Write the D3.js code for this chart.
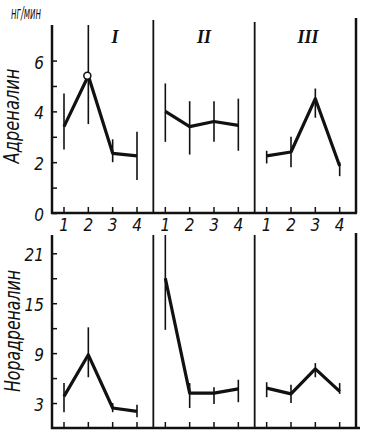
<!DOCTYPE html>
<html lang="ru">
  <head>
    <meta charset="utf-8" />
    <script src="https://d3js.org/d3.v7.min.js"></script>
    <style>
      body { margin: 0; background: #fff; }
      svg text { font-family: 'Liberation Sans Narrow', 'DejaVu Sans Condensed', sans-serif; font-style: italic; fill: #111; }
      .roman { font-family: 'Liberation Serif', serif; font-weight: bold; }
    </style>
  </head>
  <body>
    <svg id="chart" width="367" height="432"></svg>
    <script>
      // sessions and sample points
      const sessions = ['I', 'II', 'III'];
      const samples = [1, 2, 3, 4];

      // adrenaline, ng/min
      const adrMean = [[3.4, 5.4, 2.35, 2.25], [4.0, 3.4, 3.6, 3.45], [2.25, 2.4, 4.5, 1.85]];
      const adrLow  = [[2.5, 3.5, 2.0, 1.3], [2.8, 2.3, 2.8, 2.45], [1.95, 1.8, 3.75, 1.45]];
      const adrHigh = [[4.7, 7.4, 2.9, 3.2], [5.1, 4.4, 4.4, 4.5], [2.45, 3.0, 4.9, 2.0]];

      // noradrenaline
      const norMean = [[3.8, 8.8, 2.4, 2.0], [18, 4.2, 4.2, 4.7], [4.8, 4.1, 7.1, 4.4]];
      const norLow  = [[1.9, 6.1, 1.9, 1.3], [11.8, 2.4, 2.9, 3.1], [3.7, 3.0, 6.1, 4.1]];
      const norHigh = [[5.4, 12.1, 3.0, 2.8], [23.2, 5.4, 4.9, 5.8], [5.5, 5.2, 7.8, 5.4]];

      const adrTicks = [0, 2, 4, 6];
      const adrMinor = [1, 3, 5];
      const norTicks = [3, 9, 15, 21];
      const norMinor = [6, 12, 18];

      const svg = d3.select('#chart');

      const xPanel = d3.scaleBand().domain(sessions).range([52, 356]);
      const xIn = d3.scalePoint().domain(samples).range([12, 85]);
      const px = (s, i) => xPanel(s) + xIn(samples[i]);

      function drawPanel(cfg) {
        const y = d3.scaleLinear().domain(cfg.domain).range([cfg.bottom, cfg.top]);
        const g = svg.append('g');

        // y axis, ticks inside
        g.append('g')
          .attr('transform', `translate(52,0)`)
          .call(d3.axisRight(y).tickValues(cfg.ticks.concat(cfg.minor)).tickSize(5).tickFormat(''))
          .call(a => a.select('.domain').remove())
          .call(a => a.selectAll('line').attr('stroke', '#111').attr('stroke-width', 1.5));
        g.append('line')
          .attr('x1', 52).attr('x2', 52)
          .attr('y1', cfg.top).attr('y2', cfg.bottom + 1)
          .attr('stroke', '#111').attr('stroke-width', 2.5);
        g.selectAll('.ylab')
          .data(cfg.ticks)
          .join('text')
          .attr('x', 44)
          .attr('y', d => y(d) + 2)
          .attr('dy', '0.35em')
          .attr('text-anchor', 'end')
          .attr('font-size', 17)
          .text(d => d);

        // x axis
        g.append('line')
          .attr('x1', 51).attr('x2', cfg.right)
          .attr('y1', cfg.bottom).attr('y2', cfg.bottom)
          .attr('stroke', '#111').attr('stroke-width', 2.5);

        sessions.forEach((s, k) => {
          // separator
          const xr = xPanel(s) + xPanel.bandwidth();
          g.append('line')
            .attr('x1', xr).attr('x2', xr)
            .attr('y1', cfg.sepTop[k]).attr('y2', cfg.bottom)
            .attr('stroke', '#111').attr('stroke-width', k === 2 ? 2.5 : 1.8);

          g.selectAll(null)
            .data(samples)
            .join('line')
            .attr('x1', (d, i) => px(s, i)).attr('x2', (d, i) => px(s, i))
            .attr('y1', cfg.bottom - 6).attr('y2', cfg.bottom)
            .attr('stroke', '#111').attr('stroke-width', 1.5);

          // error bars
          g.selectAll(null)
            .data(samples)
            .join('line')
            .attr('x1', (d, i) => px(s, i)).attr('x2', (d, i) => px(s, i))
            .attr('y1', (d, i) => y(cfg.low[k][i]))
            .attr('y2', (d, i) => y(cfg.high[k][i]))
            .attr('stroke', '#111').attr('stroke-width', 1.6);

          // mean line
          g.append('path')
            .datum(cfg.mean[k])
            .attr('d', d3.line().x((d, i) => px(s, i)).y(d => y(d)))
            .attr('fill', 'none')
            .attr('stroke', '#111')
            .attr('stroke-width', 3.2)
            .attr('stroke-linejoin', 'round');
        });

        if (cfg.labels) {
          sessions.forEach(s => {
            g.selectAll(null)
              .data(samples)
              .join('text')
              .attr('x', (d, i) => px(s, i))
              .attr('y', 231)
              .attr('text-anchor', 'middle')
              .attr('font-size', 17)
              .text(d => d);
          });
        }

        g.append('text')
          .attr('transform', `translate(${cfg.titleX},${cfg.titleY}) rotate(-90)`)
          .attr('text-anchor', 'middle')
          .attr('font-size', 22)
          .attr('textLength', cfg.titleLen)
          .attr('lengthAdjust', 'spacingAndGlyphs')
          .text(cfg.title);
        return y;
      }

      const yA = drawPanel({
        domain: [0, 7.4], top: 25, bottom: 213, right: 357,
        ticks: adrTicks, minor: adrMinor,
        mean: adrMean, low: adrLow, high: adrHigh,
        sepTop: [20, 22, 18], labels: true,
        title: 'Адреналин', titleX: 19, titleY: 116, titleLen: 95
      });

      const yN = drawPanel({
        domain: [0, 23.2], top: 235, bottom: 428, right: 360,
        ticks: norTicks, minor: norMinor,
        mean: norMean, low: norLow, high: norHigh,
        sepTop: [235, 235, 233], labels: false,
        title: 'Норадреналин', titleX: 20, titleY: 331, titleLen: 122
      });

      // open marker on session I, sample 2
      svg.append('circle')
        .attr('cx', px('I', 1) - 1).attr('cy', yA(adrMean[0][1]))
        .attr('r', 3.5)
        .attr('fill', '#fff').attr('stroke', '#111').attr('stroke-width', 1.5);

      // units
      svg.append('text')
        .attr('x', 11).attr('y', 19)
        .attr('font-size', 18)
        .attr('textLength', 30)
        .attr('lengthAdjust', 'spacingAndGlyphs')
        .text('нг/мин');

      // session numerals
      svg.selectAll('.roman')
        .data(sessions)
        .join('text')
        .attr('class', 'roman')
        .attr('x', (d, i) => [115, 204, 308][i])
        .attr('y', 43)
        .attr('text-anchor', 'middle')
        .attr('font-size', 18)
        .text(d => d);
    </script>
  </body>
</html>
